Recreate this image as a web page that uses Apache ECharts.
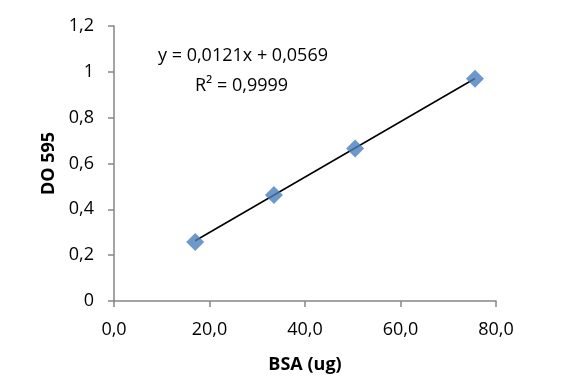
<!DOCTYPE html>
<html><head><meta charset="utf-8">
<script src="https://cdn.jsdelivr.net/npm/echarts@6/dist/echarts.min.js"></script>
<style>html,body{margin:0;padding:0;background:#fff}#c{width:581px;height:389px}</style>
</head><body><div id="c"></div>
<script>
var xValues = [17.0, 33.5, 50.5, 75.6];
var yValues = [0.257, 0.463, 0.665, 0.970];
var trendX = [17.0, 75.6];
var trendY = [0.263, 0.971];
var equationText = 'y = 0,0121x + 0,0569';
var r2Text = 'R² = 0,9999';
var xTitle = 'BSA (ug)';
var yTitle = 'DO 595';

var pts = xValues.map(function(x,i){return [x, yValues[i]];});
var trend = trendX.map(function(x,i){return [x, trendY[i]];});
var font = '"Open Sans", sans-serif';
var chart = echarts.init(document.getElementById('c'));
chart.setOption({
  animation:false,
  grid:{left:114,right:85,top:26,bottom:88,containLabel:false},
  xAxis:{type:'value',min:0,max:80,interval:20,
    axisLine:{show:true,lineStyle:{color:'#868686',width:1.5}},
    axisTick:{show:true,inside:false,length:6,lineStyle:{color:'#868686',width:1.5}},
    splitLine:{show:false},
    axisLabel:{color:'#000',fontFamily:font,fontSize:18,margin:20,formatter:function(v){return v.toFixed(1).replace('.',',');}},
    name:xTitle,nameLocation:'middle',nameGap:55,
    nameTextStyle:{color:'#000',fontFamily:font,fontSize:18,fontWeight:'bold'}},
  yAxis:{type:'value',min:0,max:1.2,interval:0.2,
    axisLine:{show:true,lineStyle:{color:'#868686',width:1.5}},
    axisTick:{show:true,inside:false,length:6,lineStyle:{color:'#868686',width:1.5}},
    splitLine:{show:false},
    axisLabel:{color:'#000',fontFamily:font,fontSize:18,margin:20,formatter:function(v){return (Math.round(v*10)/10).toString().replace('.',',');}},
    name:yTitle,nameLocation:'middle',nameGap:54,nameRotate:90,
    nameTextStyle:{color:'#000',fontFamily:font,fontSize:18,fontWeight:'bold'}},
  graphic:[
    {type:'text',left:158,top:47,style:{text:equationText,fill:'#000',font:'18px "Open Sans", sans-serif'}},
    {type:'text',left:195,top:77,style:{text:r2Text,fill:'#000',font:'18px "Open Sans", sans-serif'}}
  ],
  series:[
    {type:'line',data:trend,symbol:'none',lineStyle:{color:'#000',width:1.5},z:2},
    {type:'scatter',data:pts,symbol:'diamond',symbolSize:18,itemStyle:{color:'#4A7EBB'},z:3}
  ]
});
</script></body></html>
